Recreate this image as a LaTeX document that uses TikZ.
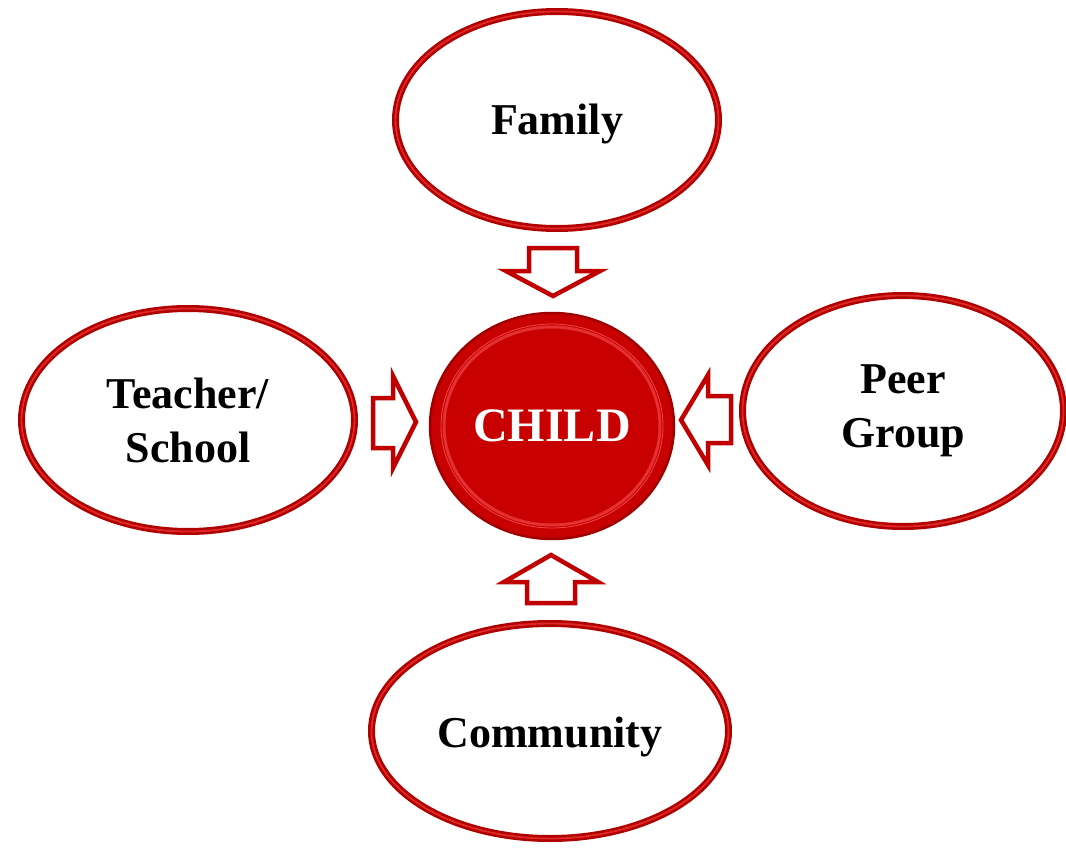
\documentclass[tikz,border=0pt]{standalone}
\usepackage{fontspec}
\setmainfont{Liberation Serif}
\usetikzlibrary{shapes.geometric}
\definecolor{ringdark}{HTML}{B00000}
\definecolor{ringlight}{HTML}{E02828}
\definecolor{childred}{HTML}{C80000}
\definecolor{childedge}{HTML}{A00000}
\definecolor{childbevel}{HTML}{E43030}
\definecolor{arrred}{HTML}{C00000}
\tikzset{
  ring/.style={ellipse, inner sep=0pt, draw=ringdark, line width=7pt, fill=white,
    postaction={draw=ringlight, line width=1.8pt},
    font=\fontsize{44}{54}\selectfont\bfseries, align=center, text=black},
  childnode/.style={ellipse, inner sep=0pt, fill=childred, draw=childedge, line width=2.5pt},
  blockarrow/.style={draw=arrred, fill=white, line width=4.5pt, line join=miter},
}
\begin{document}
\begin{tikzpicture}[x=1pt,y=-1pt]
\useasboundingbox[fill=white] (0,0) rectangle (1066,848);
% outer nodes
\node[ring, minimum width=323pt, minimum height=217pt] (family) at (557,120) {};
\node[font=\fontsize{44}{54}\selectfont\bfseries] (familytext) at (557,124) {Family};
\node[ring, minimum width=333pt, minimum height=223pt] (teacher) at (188,420) {Teacher/\\School};
\node[ring, minimum width=321pt, minimum height=231pt] (peer) at (903,411) {Peer\\Group};
\node[ring, minimum width=357pt, minimum height=215pt] (community) at (550,731) {};
\node[font=\fontsize{44}{54}\selectfont\bfseries] (communitytext) at (550,737) {Community};
% centre node
\node[childnode, minimum width=244pt, minimum height=226pt] (child) at (552,426) {};
\draw[childbevel, line width=3pt] (child.center) ellipse (108pt and 99pt);
\draw[red!60!white, line width=0.8pt, opacity=0.7] (child.center) ellipse (111pt and 102pt);
\node[font=\fontsize{48}{56}\selectfont\bfseries, text=white] (childtext) at (child.center) {CHILD};
% block arrows
\draw[blockarrow] (529,248) -- (577,248) -- (577,271) -- (600,271) -- (553,296) -- (506,271) -- (529,271) -- cycle; % down, from family
\draw[blockarrow] (527,603) -- (575,603) -- (575,582) -- (598,582) -- (551,555) -- (504,582) -- (527,582) -- cycle; % up, from community
\draw[blockarrow] (373,398) -- (393,398) -- (393,376) -- (416,422) -- (393,468) -- (393,448) -- (373,448) -- cycle; % right, from teacher
\draw[blockarrow] (731,396) -- (708,396) -- (708,375) -- (681,420) -- (708,465) -- (708,443) -- (731,443) -- cycle; % left, from peer
\end{tikzpicture}
\end{document}
